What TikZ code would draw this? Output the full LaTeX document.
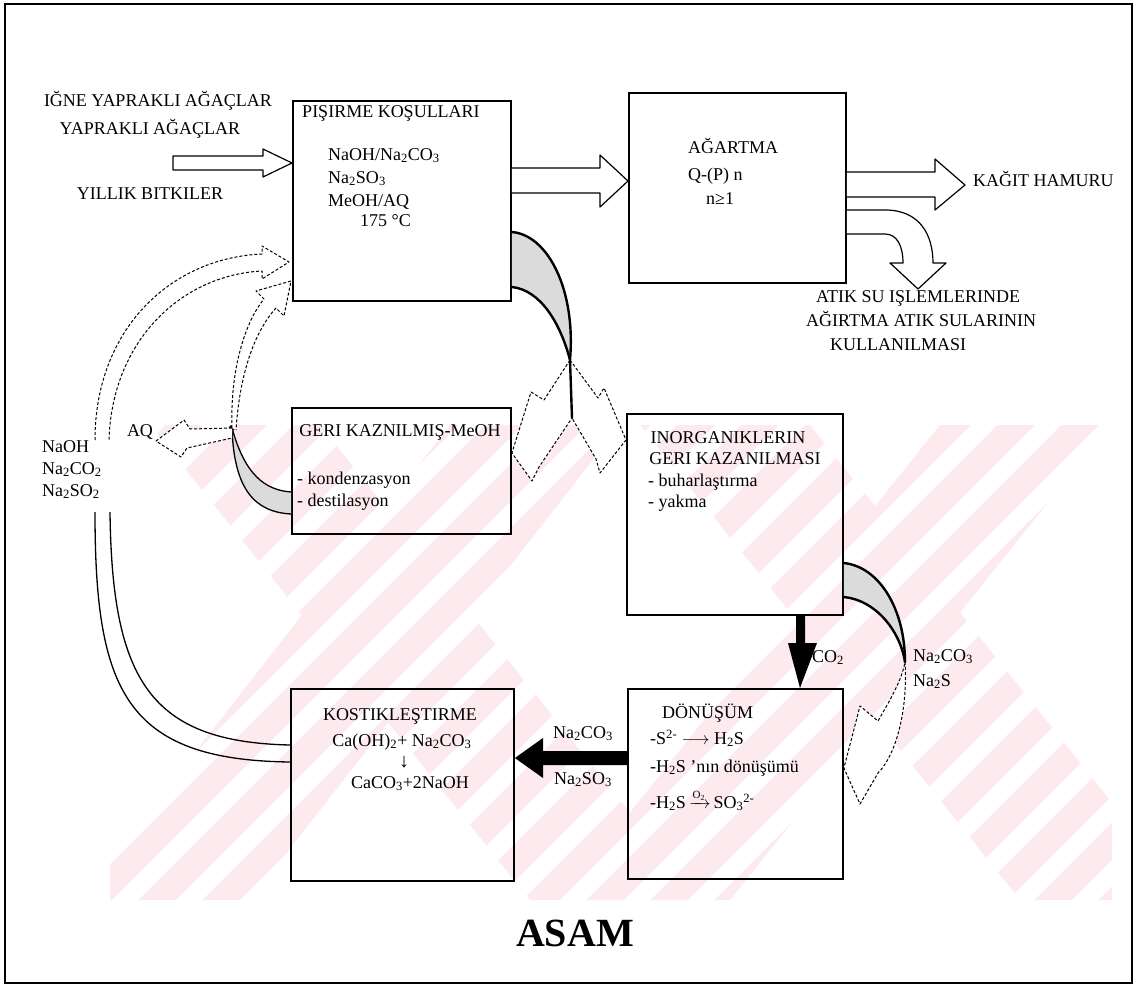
\documentclass[tikz,border=0pt]{standalone}
\usepackage{amsmath}
\usepackage{fontspec}
\setmainfont{Liberation Serif}
\usetikzlibrary{calc}
\newcommand\chsub[1]{\textsubscript{#1}}
\newcommand\chsup[1]{\textsuperscript{#1}}
\definecolor{wmpink}{RGB}{252,234,238}
\begin{document}
\begin{tikzpicture}[x=1pt,y=-1pt,
  box/.style={draw,line width=1.9pt,anchor=north west,inner sep=0pt},
  txt/.style={font=\fontsize{18}{20}\selectfont,inner sep=0pt},
  lt/.style={txt,anchor=mid west},
  ct/.style={txt,anchor=mid},
  hollow/.style={draw,fill=white,line width=1.2pt,line join=round},
  ghost/.style={draw,fill=white,line width=1pt,densely dashed,line join=round},
  ribbon/.style={fill=black!14},
  rim/.style={line width=2.4pt,line cap=round},
  thin/.style={line width=1.3pt}
]
\useasboundingbox (0,0) rectangle (1136,987);

% ---- background watermark bands ----
\begin{scope}
  \clip (110,425) rectangle (1112,900);
  \fill[wmpink] (150,425) -- (320,425) -- (700,900) -- (530,900) -- cycle;
  \fill[wmpink] (450,425) -- (620,425) -- (250,900) -- (80,900) -- cycle;
  \fill[wmpink] (640,425) -- (810,425) -- (1190,900) -- (1020,900) -- cycle;
  \fill[wmpink] (940,425) -- (1110,425) -- (730,900) -- (560,900) -- cycle;
  \foreach \s in {0,64,...,1536} {
    \fill[white] (\s-400,900) -- (\s-374,900) -- (\s+106,420) -- (\s+80,420) -- cycle;
  }
\end{scope}

% ---- frame ----
\draw[line width=2.4pt] (5,4) rectangle (1132,983);

% ---- process boxes ----
\node[box,minimum width=218pt,minimum height=200pt] (pis) at (292,100) {};
\node[box,minimum width=217pt,minimum height=190pt] (aga) at (628,92) {};
\node[box,minimum width=219pt,minimum height=126pt] (geri) at (291,407) {};
\node[box,minimum width=216pt,minimum height=201pt] (ino) at (626,413) {};
\node[box,minimum width=215pt,minimum height=190pt] (don) at (627,688) {};
\node[box,minimum width=223pt,minimum height=192pt] (kos) at (290,688) {};

% ---- raw material inputs ----
\node[ct] (in1) at (158,104) {IĞNE YAPRAKLI AĞAÇLAR};
\node[ct] (in2) at (150,132) {YAPRAKLI AĞAÇLAR};
\node[ct] (in3) at (150,197) {YILLIK BITKILER};
\coordinate (inTail) at (173,163);
\path[hollow] (inTail) ++(0,-7) -- (263,156) -- (263,149) -- (pis.west |- 0,163) -- (263,177) -- (263,170) -- (173,170) -- cycle;

% ---- cooking box text ----
\node[ct] (pisT) at (391,115) {PIŞIRME KOŞULLARI};
\node[lt] (pis1) at (328,158) {NaOH/Na\chsub{2}CO\chsub{3}};
\node[lt] (pis2) at (328,181) {Na\chsub{2}SO\chsub{3}};
\node[lt] (pis3) at (328,204) {MeOH/AQ};
\node[lt] (pis4) at (360,224) {175 °C};

% ---- bleaching ----
\node[lt] (agaT) at (688,151) {AĞARTMA};
\node[lt] (aga1) at (688,178) {Q-(P) n};
\node[lt] (aga2) at (706,202) {n≥1};

% cooking -> bleaching
\path[hollow] (pis.east |- 0,168) -- (600,168) -- (600,155) -- (aga.west |- 0,181) -- (600,207) -- (600,193) -- (pis.east |- 0,193);

% bleaching -> pulp
\node[lt] (pulp) at (973,184) {KAĞIT HAMURU};
\path[hollow] (aga.east |- 0,172) -- (935,172) -- (935,159) -- (965,185) -- (935,210) -- (935,197) -- (aga.east |- 0,197);

% bleaching -> effluent reuse
\coordinate (bendTip) at (918,289);
\path[hollow] (aga.east |- 0,210) -- (885,210) .. controls (920,210) and (933,235) .. (933,263)
  -- (946,263) -- (bendTip) -- (890,263) -- (903,263) .. controls (903,246) and (897,234) .. (885,234) -- (aga.east |- 0,234);
\node[lt] (eff1) at (816,300) {ATIK SU IŞLEMLERINDE};
\node[lt] (eff2) at (806,324) {AĞIRTMA ATIK SULARININ};
\node[lt] (eff3) at (830,348) {KULLANILMASI};

% ---- black liquor ribbon from cooking, splitting in two ----
\coordinate (x1) at (570,360);
\coordinate (x2) at (572,418);
\fill[ribbon] (pis.east |- 0,232) .. controls (548,235) and (576,290) .. (x1)
  .. controls (560,322) and (540,290) .. (pis.east |- 0,287) -- cycle;
\draw[rim] (pis.east |- 0,232) .. controls (548,235) and (576,290) .. (x1);
\draw[rim] (pis.east |- 0,287) .. controls (540,290) and (560,322) .. (x1);
\path[ghost] (x1) -- (544,400) -- (531,392) -- (geri.east |- 0,453) -- (532,481) -- (539,467) -- (x2);
\path[ghost] (x1) -- (598,398) -- (604,388) -- (ino.west |- 0,440) -- (600,473) -- (596,459) -- (x2);
\draw[rim] (x1) -- (x2);

% ---- methanol recovery ----
\node[ct] (geriT) at (400,434) {GERI KAZNILMIŞ-MeOH};
\node[lt] (geri1) at (297,482) {- kondenzasyon};
\node[lt] (geri2) at (297,504) {- destilasyon};

\coordinate (dot) at (232,428);
\fill[ribbon] (dot) .. controls (245,475) and (265,490) .. (geri.west |- 0,492)
  -- (geri.west |- 0,514) .. controls (255,512) and (234,490) .. (dot) -- cycle;
\draw[thin] (dot) .. controls (245,475) and (265,490) .. (geri.west |- 0,492);
\draw[thin] (dot) .. controls (234,490) and (255,512) .. (geri.west |- 0,514);
\fill (dot) circle (3);

% AQ released to the left
\node[ct] (aq) at (140,434) {AQ};
\path[ghost] (dot) -- (190,429) -- (184,420) -- (156,441) -- (181,457) -- (187,448) -- ($(dot)+(0,10)$);

% methanol / AQ back to cooking
\coordinate (meTip) at (291,281);
\path[ghost] (dot) .. controls (230,370) and (245,322) .. (264,299) -- (256,291) -- (meTip) -- (284,316) -- (276,308)
  .. controls (256,330) and (240,370) .. ($(dot)+(4,2)$);

% ---- recovered chemicals ----
\node[lt] (chem1) at (42,450) {NaOH};
\node[lt] (chem2) at (42,472) {Na\chsub{2}CO\chsub{2}};
\node[lt] (chem3) at (42,494) {Na\chsub{2}SO\chsub{2}};

% chemicals back to cooking
\coordinate (loopTip) at (289,262);
\path[ghost] (95,440) .. controls (95,330) and (170,258) .. (262,254) -- (262,246) -- (loopTip) -- (262,279) -- (262,271)
  .. controls (182,275) and (112,340) .. (109,440);

% causticizing -> chemicals
\draw[thin] (kos.west |- 0,762) .. controls (125,760) and (95,690) .. (95,512);
\draw[thin] (kos.west |- 0,745) .. controls (150,742) and (112,680) .. (110,512);

% ---- inorganic recovery ----
\node[ct] (inoT1) at (728,441) {INORGANIKLERIN};
\node[ct] (inoT2) at (735,462) {GERI KAZANILMASI};
\node[lt] (ino1) at (648,484) {- buharlaştırma};
\node[lt] (ino2) at (648,505) {- yakma};

% CO2 feed
\path[fill=black] (ino.south -| 796,0) -- (805,614) -- (805,643) -- (817,643) -- (don.north -| 800,0) -- (788,643) -- (796,643) -- cycle;
\node[lt] (co2) at (812,660) {CO\chsub{2}};

% smelt ribbon to conversion
\coordinate (x3) at (905,662);
\fill[ribbon] (ino.east |- 0,563) .. controls (880,567) and (905,610) .. (x3)
  .. controls (900,630) and (875,600) .. (ino.east |- 0,597) -- cycle;
\draw[rim] (ino.east |- 0,563) .. controls (880,567) and (905,610) .. (x3);
\draw[rim] (ino.east |- 0,597) .. controls (875,600) and (900,630) .. (x3);
\path[ghost] (x3) .. controls (908,710) and (896,755) .. (878,773) -- (860,804) -- (don.east |- 0,768) -- (860,706) -- (878,721)
  .. controls (890,700) and (902,680) .. (x3);
\node[lt] (sm1) at (913,659) {Na\chsub{2}CO\chsub{3}};
\node[lt] (sm2) at (913,684) {Na\chsub{2}S};

% ---- conversion ----
\node[lt] (donT) at (662,716) {DÖNÜŞÜM};
\node[lt] (don1) at (650,742) {-S\chsup{2-} $\longrightarrow$ H\chsub{2}S};
\node[lt] (don2) at (650,770) {-H\chsub{2}S 'nın dönüşümü};
\node[lt] (don3) at (650,806) {-H\chsub{2}S\,\raisebox{0pt}[0pt][0pt]{$\xrightarrow{\text{\fontsize{11}{11}\selectfont O\chsub{2}}}$}\,SO\chsub{3}\chsup{2-}};

% conversion -> causticizing
\path[fill=black] (don.west |- 0,751) -- (543,751) -- (543,738) -- (kos.east |- 0,758) -- (543,778) -- (543,765) -- (don.west |- 0,765) -- cycle;
\node[ct] (mid1) at (583,736) {Na\chsub{2}CO\chsub{3}};
\node[ct] (mid2) at (583,782) {Na\chsub{2}SO\chsub{3}};

% ---- causticizing ----
\node[ct] (kosT) at (400,718) {KOSTIKLEŞTIRME};
\node[ct] (kos1) at (402,744) {Ca(OH)\chsub{2}+ Na\chsub{2}CO\chsub{3}};
\node[ct,font=\fontsize{20}{20}\selectfont] (kos2) at (404,765) {↓};
\node[ct] (kos3) at (410,786) {CaCO\chsub{3}+2NaOH};

% ---- title ----
\node[font=\fontsize{40}{44}\selectfont\bfseries,inner sep=0pt,anchor=mid] (title) at (575,944) {ASAM};
\end{tikzpicture}
\end{document}
